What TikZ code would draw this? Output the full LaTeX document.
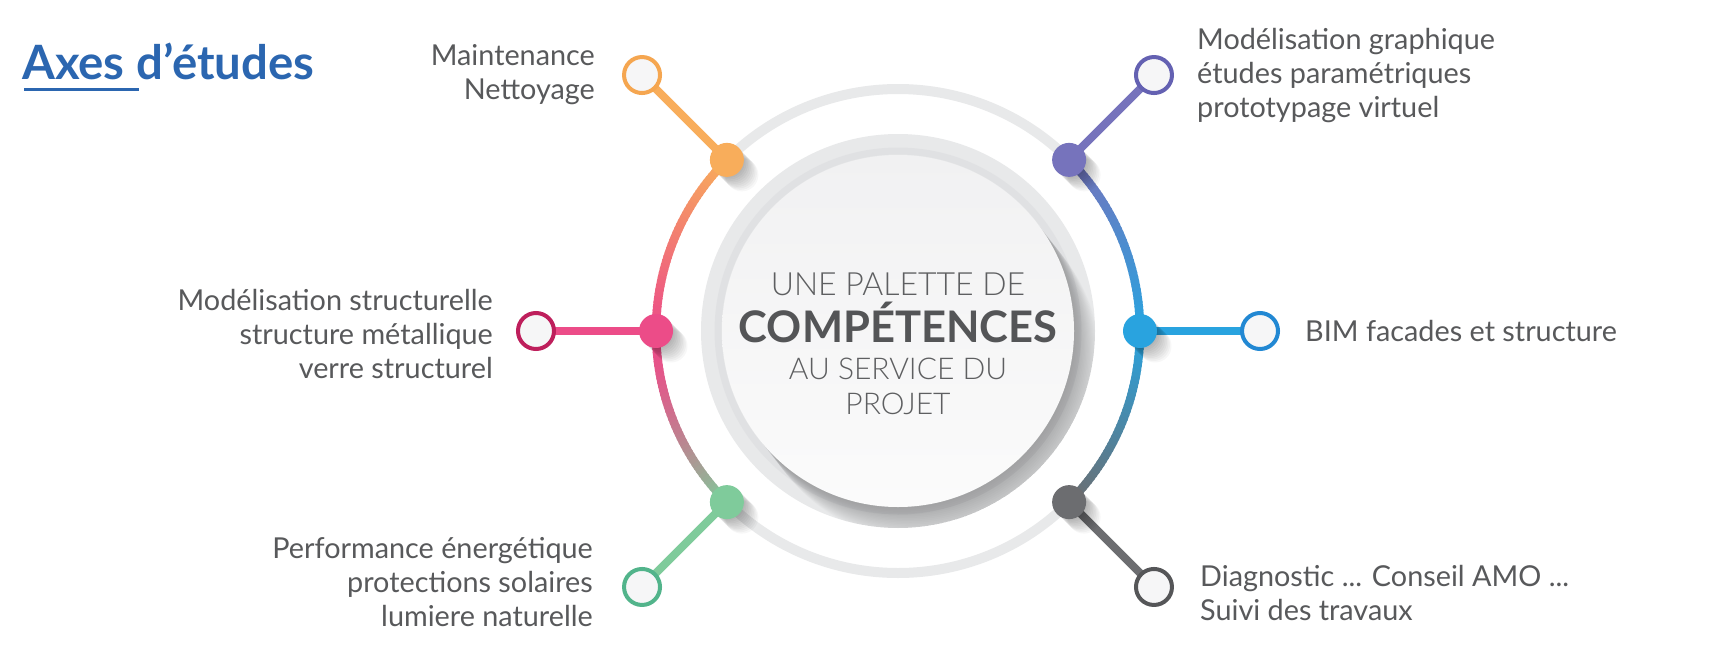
\documentclass[tikz,border=0pt]{standalone}
\usepackage{fontspec}
\setmainfont{Lato}
\newfontfamily\latolight{Lato Light}
\usetikzlibrary{calc}
\pgfdeclarelayer{back}
\pgfsetlayers{back,main}
\definecolor{txt}{HTML}{58595B}
\definecolor{ctxt}{HTML}{5E5F61}
\definecolor{cbold}{HTML}{545557}
\definecolor{titleblue}{HTML}{2B66B0}
\definecolor{cOr}{HTML}{F8AD5B}
\definecolor{cPk}{HTML}{EC4C88}
\definecolor{cGr}{HTML}{7FCB9B}
\definecolor{cPu}{HTML}{7673BC}
\definecolor{cBl}{HTML}{29A3DF}
\definecolor{cGy}{HTML}{6C6D70}
\definecolor{oOr}{HTML}{F5A650}
\definecolor{oPu}{HTML}{6461B2}
\definecolor{oPk}{HTML}{BE1F5C}
\definecolor{oBl}{HTML}{2288D3}
\definecolor{oGr}{HTML}{52B48B}
\definecolor{oGy}{HTML}{555658}
\definecolor{ringgray}{HTML}{E8E9EA}
\definecolor{discring}{HTML}{E8E9EA}
\definecolor{discrim}{HTML}{DCDDDF}
\definecolor{discA}{HTML}{F1F1F2}
\definecolor{discB}{HTML}{FBFBFB}
\definecolor{ringfill}{HTML}{F6F6F7}
\newcommand\ctrline[1]{\hbox to 0pt{\hss\smash{#1}\hss}}
\tikzset{
  lbl/.style={text=txt, font=\fontsize{28.8}{34}\selectfont, inner sep=0pt},
  dotnode/.style={circle, inner sep=0pt, minimum size=34, draw=none},
  opennode/.style={circle, inner sep=0pt, minimum size=36, line width=4, fill=ringfill},
  stem/.style={line width=8},
  arcseg/.style={line width=8.5},
}
\begin{document}
\begin{tikzpicture}[x=1pt,y=-1pt]
\useasboundingbox (0,0) rectangle (1718,656);
\coordinate (C) at (898,331);

% ---- outer ring nodes
\node[opennode, draw=oOr] (oO) at ([shift={(225:362)}]C) {};
\node[opennode, draw=oPk] (oK) at ([shift={(180:362)}]C) {};
\node[opennode, draw=oGr] (oG) at ([shift={(135:362)}]C) {};
\node[opennode, draw=oPu] (oP) at ([shift={(-45:362)}]C) {};
\node[opennode, draw=oBl] (oB) at ([shift={(0:362)}]C) {};
\node[opennode, draw=oGy] (oY) at ([shift={(45:362)}]C) {};

\node[dotnode, fill=cOr] (dO) at ([shift={(225:242)}]C) {};
\node[dotnode, fill=cPk] (dK) at ([shift={(180:242)}]C) {};
\node[dotnode, fill=cGr] (dG) at ([shift={(135:242)}]C) {};
\node[dotnode, fill=cPu] (dP) at ([shift={(-45:242)}]C) {};
\node[dotnode, fill=cBl] (dB) at ([shift={(0:242)}]C) {};
\node[dotnode, fill=cGy] (dY) at ([shift={(45:242)}]C) {};

\begin{pgfonlayer}{back}
\fill[white] (0,0) rectangle (1718,656);
% central disc: light rim with soft inner edge
\fill[discring] (C) circle[radius=197];
\draw[discrim, line width=7, opacity=0.6] (C) circle[radius=180];
% long shadow of the inner disc, toward lower right
\begin{scope}
  \clip (C) circle[radius=197];
  \foreach \t in {2,4,...,44}{
    \fill[black, opacity=0.011] ($(C)+(52:\t)$) circle[radius=176];
  }
\end{scope}
\shade[top color=discA, bottom color=discB] (C) circle[radius=176];

% gray arcs
\draw[ringgray, line width=10] ([shift={(225:242)}]C) arc[start angle=225, end angle=315, radius=242];
\draw[ringgray, line width=10] ([shift={(45:242)}]C) arc[start angle=45, end angle=135, radius=242];
% coloured arcs
\foreach \i in {0,...,44}{
  \pgfmathsetmacro\p{100*\i/44}
  \pgfmathsetmacro\q{100*(\i/44)^1.6}
  \draw[arcseg, color=cPk!\p!cOr] ([shift={(225-\i:242)}]C) arc[start angle=225-\i, delta angle=-1.4, radius=242];
  \draw[arcseg, color=cGr!\q!cPk] ([shift={(180-\i:242)}]C) arc[start angle=180-\i, delta angle=-1.4, radius=242];
  \draw[arcseg, color=cBl!\p!cPu] ([shift={(-45+\i:242)}]C) arc[start angle=-45+\i, delta angle=1.4, radius=242];
  \draw[arcseg, color=cGy!\p!cBl] ([shift={(\i:242)}]C) arc[start angle=\i, delta angle=1.4, radius=242];
}
% stems
\draw[stem, cOr] (dO.center) -- (oO.center);
\draw[stem, cPk] (dK.center) -- (oK.center);
\draw[stem, cGr] (dG.center) -- (oG.center);
\draw[stem, cPu] (dP.center) -- (oP.center);
\draw[stem, cBl] (dB.center) -- (oB.center);
\draw[stem, cGy] (dY.center) -- (oY.center);
% dot shadows
\foreach \d in {dO,dK,dG,dP,dB,dY}{
  \foreach \k in {1,...,10}{
    \fill[black, opacity=0.03] ([shift={(\k*1.5,\k*1.5)}]\d.center) circle[radius=16.5];
  }
}
\end{pgfonlayer}

% central text
\node[inner sep=0pt, anchor=base, text=ctxt] (ctr) at (898,295) {\vtop{\offinterlineskip
 \ctrline{\latolight\fontsize{32}{32}\selectfont UNE PALETTE DE}\kern47pt
 \ctrline{\color{cbold}\bfseries\fontsize{43.5}{44}\selectfont COMPÉTENCES}\kern37pt
 \ctrline{\latolight\fontsize{30}{30}\selectfont AU SERVICE DU}\kern35pt
 \ctrline{\latolight\fontsize{30}{30}\selectfont PROJET}}};

% labels (base = last line)
\node[lbl, align=right, anchor=base east] (tO) at ([shift={(-47,24)}]oO.center) {Maintenance\\Nettoyage};
\node[lbl, align=right, anchor=base east] (tK) at ([shift={(-43,47)}]oK.center) {Modélisation structurelle\\structure métallique\\verre structurel};
\node[lbl, align=right, anchor=base east] (tG) at ([shift={(-49,40)}]oG.center) {Performance énergétique\\protections solaires\\lumiere naturelle};
\node[lbl, align=left, anchor=base west] (tP) at ([shift={(43,42)}]oP.center) {Modélisation graphique\\études paramétriques\\prototypage virtuel};
\node[lbl, anchor=base west] (tB) at ([shift={(45,10)}]oB.center) {BIM facades et structure};
\node[lbl, align=left, anchor=base west] (tY) at ([shift={(46,34)}]oY.center) {Diagnostic ... Conseil AMO ...\\Suivi des travaux};

% title
\node[anchor=base west, inner sep=0pt, text=titleblue, font=\bfseries\fontsize{47.3}{50}\selectfont] (title) at (22,79) {Axes d’études};
\draw[titleblue, line width=3] ([shift={(2,10)}]title.base west) -- ([shift={(117,10)}]title.base west);
\end{tikzpicture}
\end{document}
